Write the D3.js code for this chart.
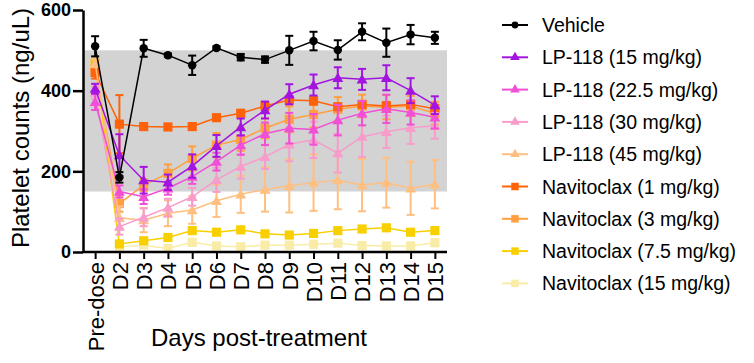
<!DOCTYPE html>
<html>
<head>
<meta charset="utf-8">
<script src="https://cdn.jsdelivr.net/npm/d3@7"></script>
<style>
  body { margin: 0; background: #fff; }
  text { font-family: "Liberation Sans", Arial, sans-serif; }
</style>
</head>
<body>
<script>
const days = ["Pre-dose", "D2", "D3", "D4", "D5", "D6", "D7", "D8", "D9", "D10", "D11", "D12", "D13", "D14", "D15"];

const seriesNames = [
  "Vehicle", "LP-118 (15 mg/kg)", "LP-118 (22.5 mg/kg)", "LP-118 (30 mg/kg)", "LP-118 (45 mg/kg)",
  "Navitoclax (1 mg/kg)", "Navitoclax (3 mg/kg)", "Navitoclax (7.5 mg/kg)", "Navitoclax (15 mg/kg)"
];
const seriesColors = ["#000000", "#a414e0", "#f04fd6", "#f79ccb", "#ffbf80", "#ff6208", "#ff9f40", "#f8d000", "#f9eca6"];
const seriesShapes = ["circle", "triangle", "triangle", "triangle", "triangle", "square", "square", "square", "square"];

// means (ng/uL)
const vehicle   = [510, 185, 505, 488, 463, 506, 483, 477, 500, 523, 501, 546, 519, 539, 531];
const lp15      = [405, 240, 178, 173, 213, 263, 310, 352, 391, 414, 432, 428, 432, 400, 364];
const lp22      = [372, 150, 137, 158, 187, 224, 265, 293, 307, 304, 327, 344, 355, 346, 334];
const lp30      = [395, 63, 86, 110, 137, 179, 212, 236, 267, 278, 245, 286, 298, 308, 313];
const lp45      = [468, 85, 79, 96, 104, 127, 143, 155, 164, 172, 178, 166, 172, 158, 168];
const navi1     = [445, 317, 311, 310, 311, 333, 344, 362, 377, 375, 360, 366, 362, 366, 355];
const navi3     = [455, 120, 166, 195, 232, 265, 279, 307, 329, 341, 354, 362, 359, 362, 344];
const navi7     = [470, 20, 28, 36, 53, 49, 55, 45, 42, 46, 53, 57, 60, 49, 53];
const navi15    = [462, 13, 17, 9, 24, 15, 13, 17, 17, 19, 22, 16, 15, 15, 23];

// error bars (SD)
const vehicleErr = [25, 13, 21, 4, 24, 4, 8, 8, 36, 23, 24, 21, 35, 24, 15];
const lp15Err    = [12, 52, 33, 19, 29, 27, 21, 21, 25, 26, 26, 26, 31, 31, 22];
const lp22Err    = [20, 15, 18, 16, 18, 22, 24, 28, 38, 38, 38, 30, 35, 30, 28];
const lp30Err    = [15, 20, 22, 22, 22, 30, 30, 30, 42, 45, 48, 50, 40, 40, 32];
const lp45Err    = [10, 28, 30, 32, 34, 40, 46, 55, 66, 70, 72, 65, 62, 66, 60];
const navi1Err   = [15, 72, 5, 5, 5, 6, 6, 10, 10, 10, 8, 8, 10, 8, 10];
const navi3Err   = [15, 20, 15, 22, 30, 30, 28, 25, 32, 32, 30, 28, 30, 25, 28];
const navi7Err   = [8, 4, 4, 4, 4, 4, 4, 4, 4, 4, 4, 4, 4, 4, 4];
const navi15Err  = [8, 3, 3, 3, 3, 3, 3, 3, 3, 3, 3, 3, 3, 3, 3];

const seriesMeans = [vehicle, lp15, lp22, lp30, lp45, navi1, navi3, navi7, navi15];
const seriesErrs = [vehicleErr, lp15Err, lp22Err, lp30Err, lp45Err, navi1Err, navi3Err, navi7Err, navi15Err];

const normalRange = [150, 500];
const yTicks = [0, 200, 400, 600];

const width = 754, height = 363;
const plotLeft = 83, plotRight = 447, plotTop = 10, plotBottom = 252;

const svg = d3.select("body").append("svg")
  .attr("width", width)
  .attr("height", height);

const x = d3.scalePoint().domain(days).range([plotLeft, plotRight]).padding(0.5);
const y = d3.scaleLinear().domain([0, 600]).range([plotBottom, plotTop]);

// normal range band
svg.append("rect")
  .attr("x", plotLeft)
  .attr("y", y(normalRange[1]))
  .attr("width", plotRight - plotLeft)
  .attr("height", y(normalRange[0]) - y(normalRange[1]))
  .attr("fill", "#d3d3d3");

const symbolFor = (shape) => {
  if (shape === "circle") return d3.symbol(d3.symbolCircle, 56);
  if (shape === "triangle") return d3.symbol(d3.symbolTriangle, 52);
  return d3.symbol(d3.symbolSquare, 84);
};

const series = seriesNames.map((name, i) => ({
  name,
  color: seriesColors[i],
  shape: seriesShapes[i],
  points: days.map((d, j) => ({ day: d, v: seriesMeans[i][j], e: seriesErrs[i][j] }))
}));

const line = d3.line().x((d) => x(d.day)).y((d) => y(d.v));

// draw last series first so Vehicle ends on top
const groups = svg.selectAll("g.series")
  .data(series.slice().reverse())
  .join("g")
  .attr("class", "series");

groups.append("path")
  .attr("d", (d) => line(d.points))
  .attr("fill", "none")
  .attr("stroke", (d) => d.color)
  .attr("stroke-width", 1.5);

groups.each(function (s) {
  const g = d3.select(this);
  const eb = g.selectAll("g.err").data(s.points).join("g").attr("class", "err")
    .attr("stroke", s.color).attr("stroke-width", 2);
  eb.append("line")
    .attr("x1", (d) => x(d.day)).attr("x2", (d) => x(d.day))
    .attr("y1", (d) => y(d.v + d.e)).attr("y2", (d) => y(d.v - d.e));
  eb.append("line")
    .attr("x1", (d) => x(d.day) - 4).attr("x2", (d) => x(d.day) + 4)
    .attr("y1", (d) => y(d.v + d.e)).attr("y2", (d) => y(d.v + d.e));
  eb.append("line")
    .attr("x1", (d) => x(d.day) - 4).attr("x2", (d) => x(d.day) + 4)
    .attr("y1", (d) => y(d.v - d.e)).attr("y2", (d) => y(d.v - d.e));

  g.selectAll("path.pt").data(s.points).join("path").attr("class", "pt")
    .attr("d", symbolFor(s.shape))
    .attr("transform", (d) => `translate(${x(d.day)},${y(d.v) + (s.shape === "triangle" ? 1 : 0)})`)
    .attr("fill", s.color);
});

// axes
const yAxis = svg.append("g")
  .attr("transform", `translate(${plotLeft},0)`)
  .call(d3.axisLeft(y).tickValues(yTicks).tickSize(10).tickPadding(2).tickSizeOuter(0));
yAxis.select(".domain").attr("stroke-width", 2.5);
yAxis.selectAll(".tick line").attr("stroke-width", 2.5);
yAxis.selectAll(".tick text").attr("font-size", 18).attr("font-weight", "bold")
  .attr("font-family", "Liberation Sans, Arial, sans-serif").attr("fill", "#000");

const xAxis = svg.append("g")
  .attr("transform", `translate(0,${plotBottom})`)
  .call(d3.axisBottom(x).tickSize(7).tickSizeOuter(0));
xAxis.select(".domain").attr("stroke-width", 2.5).attr("d", `M${plotLeft},0H${plotRight}`);
xAxis.selectAll(".tick line").attr("stroke-width", 2);
xAxis.selectAll(".tick text")
  .attr("font-size", 22)
  .attr("font-family", "Liberation Sans, Arial, sans-serif")
  .attr("fill", "#000")
  .attr("transform", "rotate(-90)")
  .attr("text-anchor", "end")
  .attr("x", -10)
  .attr("y", 0)
  .attr("dy", "0.36em");

// axis titles
svg.append("text")
  .attr("transform", `translate(29,128) rotate(-90)`)
  .attr("text-anchor", "middle")
  .attr("font-size", 24)
  .text("Platelet counts (ng/uL)");

svg.append("text")
  .attr("x", 259)
  .attr("y", 346)
  .attr("text-anchor", "middle")
  .attr("font-size", 24)
  .text("Days post-treatment");

// legend
const legend = svg.append("g").attr("transform", "translate(502,25)");
const rows = legend.selectAll("g").data(series).join("g")
  .attr("transform", (d, i) => `translate(0,${i * 32.3})`);
rows.append("line")
  .attr("x1", 0).attr("x2", 26).attr("y1", 0).attr("y2", 0)
  .attr("stroke", (d) => d.color).attr("stroke-width", 2);
rows.append("path")
  .attr("d", (d) => symbolFor(d.shape).size(d.shape === "circle" ? 36 : d.shape === "triangle" ? 40 : 56)())
  .attr("transform", "translate(13,0)")
  .attr("fill", (d) => d.color);
rows.append("text")
  .attr("x", 40)
  .attr("dy", "0.36em")
  .attr("font-size", 19.5)
  .text((d) => d.name);
</script>
</body>
</html>
